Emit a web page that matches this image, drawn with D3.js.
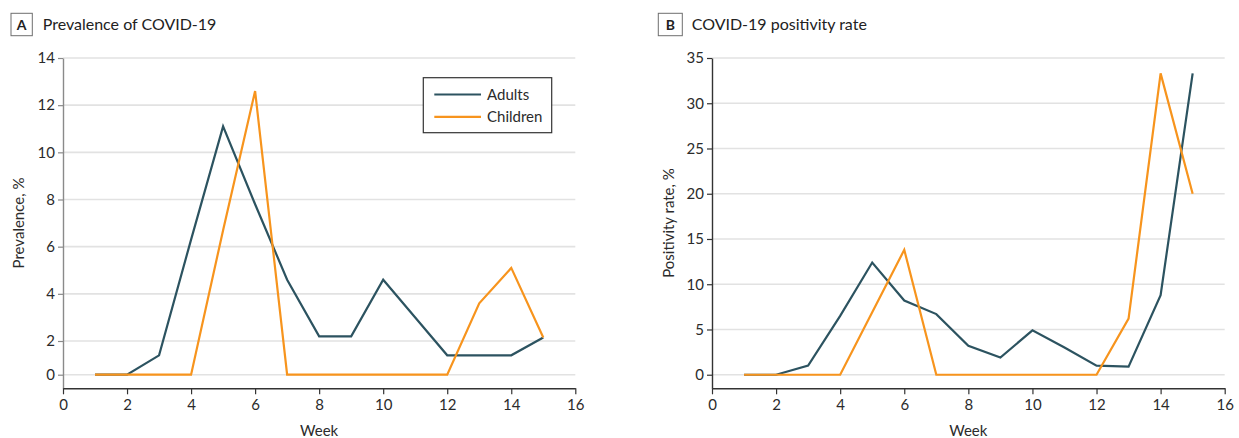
<!DOCTYPE html>
<html>
<head>
<meta charset="utf-8">
<script src="https://cdn.jsdelivr.net/npm/d3@7"></script>
<style>
  html, body { margin: 0; padding: 0; background: #fff; }
  svg { display: block; font-family: "Lato", "Noto Sans", sans-serif; }
</style>
</head>
<body>
<svg id="chart" width="1239" height="438"></svg>
<script>
// ---- Data ----
const weeks = [1, 2, 3, 4, 5, 6, 7, 8, 9, 10, 11, 12, 13, 14, 15];
const prevalenceAdults   = [0, 0, 1.15, 6.3, 11.1, 7.8, 4.6, 2.2, 2.2, 4.6, 3.0, 1.15, 1.15, 1.15, 2.15];
const prevalenceChildren = [0, 0, 0, 0, 6.7, 12.6, 0, 0, 0, 0, 0, 0, 3.6, 5.1, 2.15];
const positivityAdults   = [0, 0, 1.0, 6.5, 12.4, 8.2, 6.7, 3.2, 1.9, 4.9, 3.0, 1.0, 0.9, 8.8, 33.3];
const positivityChildren = [0, 0, 0, 0, 6.9, 13.8, 0, 0, 0, 0, 0, 0, 6.2, 33.3, 20.0];
const xTicks = [0, 2, 4, 6, 8, 10, 12, 14, 16];
const yTicksA = [0, 2, 4, 6, 8, 10, 12, 14];
const yTicksB = [0, 5, 10, 15, 20, 25, 30, 35];
const seriesNames = ["Adults", "Children"];
const colors = { Adults: "#2c5360", Children: "#f7941d" };

const svg = d3.select("#chart");

function panel(opts) {
  const g = svg.append("g");
  const x = d3.scaleLinear().domain([0, 16]).range([opts.x0, opts.x1]);
  const y = d3.scaleLinear().domain(opts.yDomain).range(opts.yRange);
  const axisY = 388.3;

  // gridlines
  g.append("g").selectAll("line").data(opts.yTicks).join("line")
    .attr("x1", opts.x0).attr("x2", opts.x1)
    .attr("y1", d => y(d)).attr("y2", d => y(d))
    .attr("stroke", "#e2e2e2").attr("stroke-width", 1.6);

  // y axis
  const ya = g.append("g").attr("transform", `translate(${opts.x0},0)`)
    .call(d3.axisLeft(y).tickValues(opts.yTicks).tickSize(5).tickSizeOuter(0).tickPadding(3));
  ya.select(".domain").attr("stroke", opts.yAxisColor).attr("stroke-width", 1.4);
  ya.selectAll(".tick line").attr("stroke", opts.yAxisColor).attr("stroke-width", 1.2);
  ya.selectAll(".tick text").attr("fill", "#2b2b2b").style("font-size", "15px")
    .style("font-family", "Lato, 'Noto Sans', sans-serif");

  // x axis
  const xa = g.append("g").attr("transform", `translate(0,${axisY})`)
    .call(d3.axisBottom(x).tickValues(xTicks).tickSize(6).tickSizeOuter(0).tickPadding(5));
  xa.select(".domain").attr("stroke", "#333").attr("stroke-width", 1.4);
  xa.selectAll(".tick line").attr("stroke", "#333").attr("stroke-width", 1.2);
  xa.selectAll(".tick text").attr("fill", "#2b2b2b").style("font-size", "15px")
    .style("font-family", "Lato, 'Noto Sans', sans-serif");

  // lines
  const line = d3.line().x((d, i) => x(weeks[i])).y(d => y(d));
  [["Adults", opts.adults], ["Children", opts.children]].forEach(([name, vals]) => {
    g.append("path").datum(vals)
      .attr("d", line)
      .attr("fill", "none")
      .attr("stroke", colors[name])
      .attr("stroke-width", 2.2)
      .attr("stroke-linejoin", "miter");
  });

  // title box + letter
  g.append("rect").attr("x", opts.boxX).attr("y", 13.3).attr("width", opts.boxW).attr("height", 22.4)
    .attr("fill", "#fff").attr("stroke", "#6e6e6e").attr("stroke-width", 1);
  g.append("text").attr("x", opts.boxX + opts.boxW / 2).attr("y", 30)
    .attr("text-anchor", "middle").style("font-size", "14px").style("font-weight", "bold")
    .attr("fill", "#222").text(opts.letter);
  g.append("text").attr("x", opts.titleX).attr("y", 30)
    .style("font-size", "16px").attr("fill", "#222").text(opts.title);

  // axis labels
  g.append("text").attr("x", (opts.x0 + opts.x1) / 2 + 0).attr("y", 436)
    .attr("text-anchor", "middle").style("font-size", "15px").attr("fill", "#2b2b2b").text("Week");
  g.append("text").attr("transform", `translate(${opts.yLabelX},223) rotate(-90)`)
    .attr("text-anchor", "middle").style("font-size", "15px").attr("fill", "#2b2b2b").text(opts.yLabel);

  return { g, x, y };
}

const A = panel({
  x0: 63, x1: 575.3,
  yDomain: [-0.81, 0, 2, 14], yRange: [388.3, 374.7, 341, 58],
  yTicks: yTicksA, yAxisColor: "#8a8a8a",
  adults: prevalenceAdults, children: prevalenceChildren,
  boxX: 11, boxW: 21.3, letter: "A", titleX: 42.7, title: "Prevalence of COVID-19",
  yLabel: "Prevalence, %", yLabelX: 24
});

const B = panel({
  x0: 712, x1: 1224.7,
  yDomain: [-1.5, 35], yRange: [388.3, 58],
  yTicks: yTicksB, yAxisColor: "#333",
  adults: positivityAdults, children: positivityChildren,
  boxX: 658.3, boxW: 24, letter: "B", titleX: 691.7, title: "COVID-19 positivity rate",
  yLabel: "Positivity rate, %", yLabelX: 674
});

// legend (panel A)
const lg = svg.append("g");
lg.append("rect").attr("x", 423.3).attr("y", 77.7).attr("width", 128.4).attr("height", 55)
  .attr("fill", "#fff").attr("stroke", "#333").attr("stroke-width", 1.2);
seriesNames.forEach((name, i) => {
  const yy = 94.5 + i * 22.3;
  lg.append("line").attr("x1", 434.3).attr("x2", 481).attr("y1", yy).attr("y2", yy)
    .attr("stroke", colors[name]).attr("stroke-width", 2.2);
  lg.append("text").attr("x", 487).attr("y", yy + 5.5).style("font-size", "15px")
    .attr("fill", "#2b2b2b").text(name);
});
</script>
</body>
</html>
